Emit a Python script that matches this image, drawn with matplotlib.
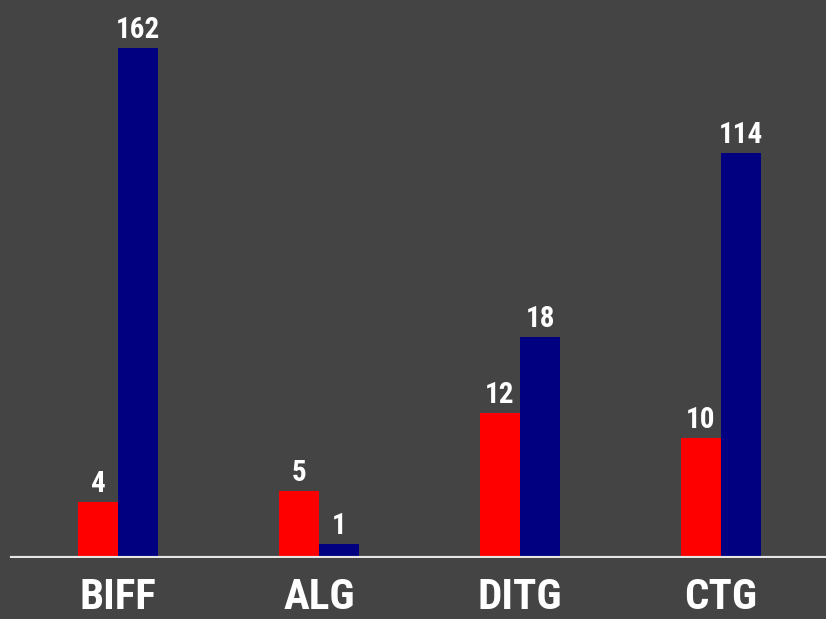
import numpy as np
import matplotlib
matplotlib.use("Agg")
import matplotlib.pyplot as plt
from matplotlib import font_manager

categories = ["BIFF", "ALG", "DITG", "CTG"]
red_values = [4, 5, 12, 10]
blue_values = [162, 1, 18, 114]

bg = "#444444"
names = {f.name for f in font_manager.fontManager.ttflist}
narrow = [n for n in ["Liberation Sans Narrow", "DejaVu Sans Condensed",
                      "Roboto Condensed"] if n in names]
font = narrow[:1] + ["DejaVu Sans"]

# the original graphic squeezes the tall bars, so use a bent scale
knots_in = [0, 4, 10, 20, 114, 162, 300]
knots_out = [0, 56, 120, 246, 405, 510, 510 + 138 * 105 / 48]


def forward(v):
    return np.interp(v, knots_in, knots_out)


def inverse(v):
    return np.interp(v, knots_out, knots_in)


fig = plt.figure(figsize=(8.26, 6.19), dpi=100, facecolor=bg)
ax = fig.add_axes([0, 61 / 619, 1, 558 / 619], facecolor=bg)
ax.set_yscale("function", functions=(forward, inverse))
ax.set_ylim(0, inverse(558))
ax.set_xlim(-118 / 201, (826 - 118) / 201)

x = np.arange(len(categories))
w = 0.2
red_bars = ax.bar(x - w / 2, red_values, w, color="#ff0000", zorder=2)
blue_bars = ax.bar(x + w / 2, blue_values, w, color="#000080", zorder=2)

for bars, vals in [(red_bars, red_values), (blue_bars, blue_values)]:
    for b, v in zip(bars, vals):
        ax.annotate(str(v), (b.get_x() + b.get_width() / 2, v),
                    xytext=(0, 3), textcoords="offset points",
                    ha="center", va="bottom", color="white",
                    fontsize=21, fontweight="bold", family=font,
                    fontstretch="condensed")

ax.axhline(0, xmin=12 / 826, xmax=1, color="#e6e6e6", lw=3, zorder=3)

ax.set_xticks(x)
ax.set_xticklabels(categories, color="white", fontsize=31,
                   fontweight="bold", family=font, fontstretch="condensed")
ax.tick_params(axis="x", length=0, pad=14)
ax.set_yticks([])
ax.yaxis.set_minor_locator(plt.NullLocator())
for s in ax.spines.values():
    s.set_visible(False)

fig.savefig("out.png", dpi=100, facecolor=bg)
